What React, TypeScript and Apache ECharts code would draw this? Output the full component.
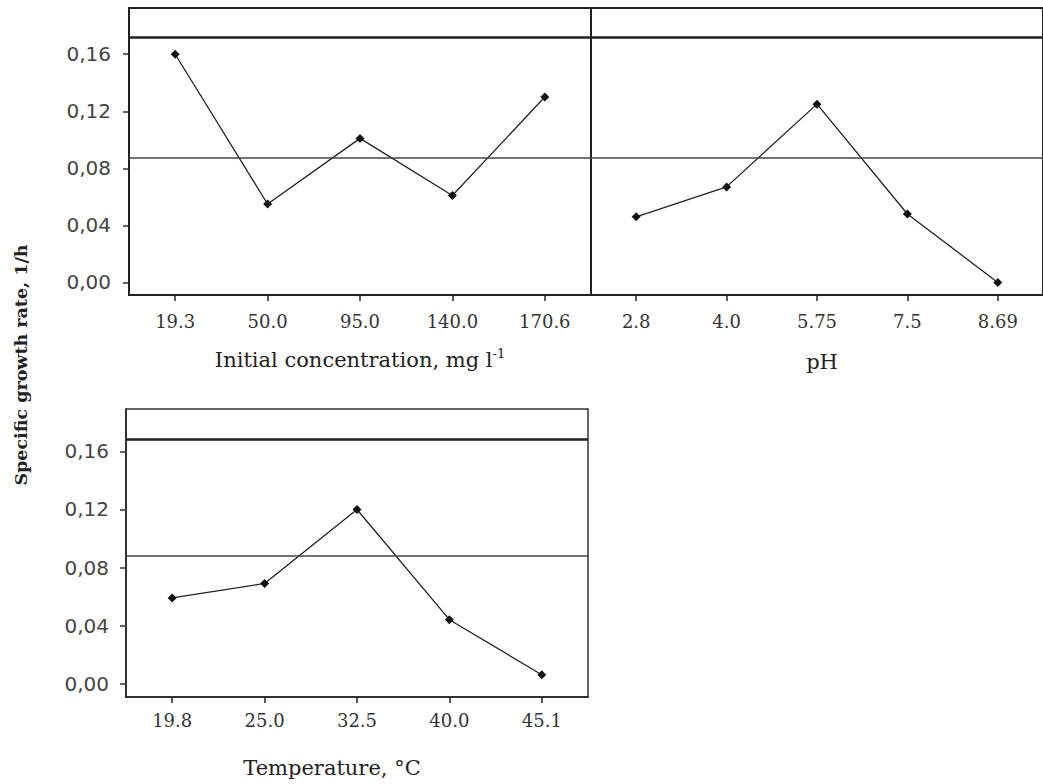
import React, { useEffect, useRef } from "react";
import * as echarts from "echarts";

const concCategories = ["19.3", "50.0", "95.0", "140.0", "170.6"];
const concValues = [0.160, 0.055, 0.101, 0.061, 0.130];

const phCategories = ["2.8", "4.0", "5.75", "7.5", "8.69"];
const phValues = [0.046, 0.067, 0.125, 0.048, 0.000];

const tempCategories = ["19.8", "25.0", "32.5", "40.0", "45.1"];
const tempValues = [0.059, 0.069, 0.120, 0.044, 0.006];

const yTicks = [0, 0.04, 0.08, 0.12, 0.16];

// reference lines (upper limit, mean)
const topRefLines = [0.1718, 0.0871];
const bottomRefLines = [0.1681, 0.0879];

const fmt = (v: number) => v.toFixed(2).replace(".", ",");

const SERIF = "'DejaVu Serif', serif";
const SANS = "'DejaVu Sans', sans-serif";

export default function App() {
  const ref = useRef<HTMLDivElement>(null);
  useEffect(() => {
    if (!ref.current) return;
    const chart = echarts.init(ref.current, undefined, { renderer: "svg" });

    const mkX = (gridIndex: number, data: string[], margin: number) => ({
      type: "category",
      gridIndex,
      data,
      boundaryGap: true,
      axisLine: { show: true, onZero: false, lineStyle: { color: "#222", width: 1.5 } },
      axisTick: { show: true, alignWithLabel: true, length: 6, lineStyle: { color: "#222", width: 1.5 } },
      axisLabel: { show: true, margin, fontFamily: SERIF, fontSize: 18, color: "#333" },
      splitLine: { show: false },
    });

    const mkY = (gridIndex: number, min: number, max: number, showLabels: boolean, margin: number) => ({
      type: "value",
      gridIndex,
      min,
      max,
      axisLine: { show: true, onZero: false, lineStyle: { color: "#222", width: 1.5 } },
      axisTick: {
        show: showLabels,
        length: 6,
        customValues: yTicks,
        lineStyle: { color: "#333", width: 1.5 },
      },
      axisLabel: {
        show: showLabels,
        customValues: yTicks,
        margin,
        fontFamily: SANS,
        fontSize: 20,
        color: "#444",
        formatter: (v: number) => fmt(v),
      },
      splitLine: { show: false },
    });

    const mkSeries = (idx: number, data: number[], refs: number[]) => ({
      type: "line",
      xAxisIndex: idx,
      yAxisIndex: idx,
      data,
      symbol: "diamond",
      symbolSize: 9,
      itemStyle: { color: "#111" },
      lineStyle: { color: "#222", width: 1.3 },
      markLine: {
        silent: true,
        symbol: "none",
        precision: 4,
        label: { show: false },
        data: [
          { yAxis: refs[0], lineStyle: { color: "#222", width: 2.5, type: "solid" } },
          { yAxis: refs[1], lineStyle: { color: "#444", width: 1.5, type: "solid" } },
        ],
      },
    });

    const option = {
      animation: false,
      backgroundColor: "#fff",
      grid: [
        { left: 129, top: 8, width: 462, height: 287, show: true, borderColor: "#222", borderWidth: 2, containLabel: false },
        { left: 591, top: 8, width: 462, height: 287, show: true, borderColor: "#222", borderWidth: 2, containLabel: false },
        { left: 126, top: 409, width: 462, height: 288, show: true, borderColor: "#333", borderWidth: 1.5, containLabel: false },
      ],
      xAxis: [
        mkX(0, concCategories, 17),
        mkX(1, phCategories, 17),
        mkX(2, tempCategories, 14),
      ],
      yAxis: [
        mkY(0, -0.0088, 0.1924, true, 18),
        mkY(1, -0.0088, 0.1924, false, 18),
        mkY(2, -0.0093, 0.1893, true, 17),
      ],
      series: [
        mkSeries(0, concValues, topRefLines),
        mkSeries(1, phValues, topRefLines),
        mkSeries(2, tempValues, bottomRefLines),
      ],
      graphic: [
        {
          type: "text",
          x: 360,
          y: 360,
          style: {
            text: "Initial concentration, mg l{sup|-1}",
            font: `21px ${SERIF}`,
            fill: "#222",
            align: "center",
            verticalAlign: "middle",
            rich: {
              sup: { fontSize: 13, fontFamily: SERIF, verticalAlign: "top", lineHeight: 26, fill: "#222" },
            },
          },
        },
        {
          type: "text",
          x: 822,
          y: 362,
          style: { text: "pH", font: `21px ${SERIF}`, fill: "#222", align: "center", verticalAlign: "middle" },
        },
        {
          type: "text",
          x: 332,
          y: 768,
          style: { text: "Temperature, °C", font: `21px ${SERIF}`, fill: "#222", align: "center", verticalAlign: "middle" },
        },
        {
          type: "text",
          x: 21,
          y: 365,
          rotation: Math.PI / 2,
          style: {
            text: "Specific growth rate, 1/h",
            font: `bold 17.5px ${SERIF}`,
            fill: "#222",
            align: "center",
            verticalAlign: "middle",
          },
        },
      ],
    };

    chart.setOption(option as any);
    return () => chart.dispose();
  }, []);

  return (
    <div
      ref={ref}
      style={{ position: "absolute", left: 0, top: 0, width: 1043, height: 784, background: "#fff" }}
    />
  );
}
